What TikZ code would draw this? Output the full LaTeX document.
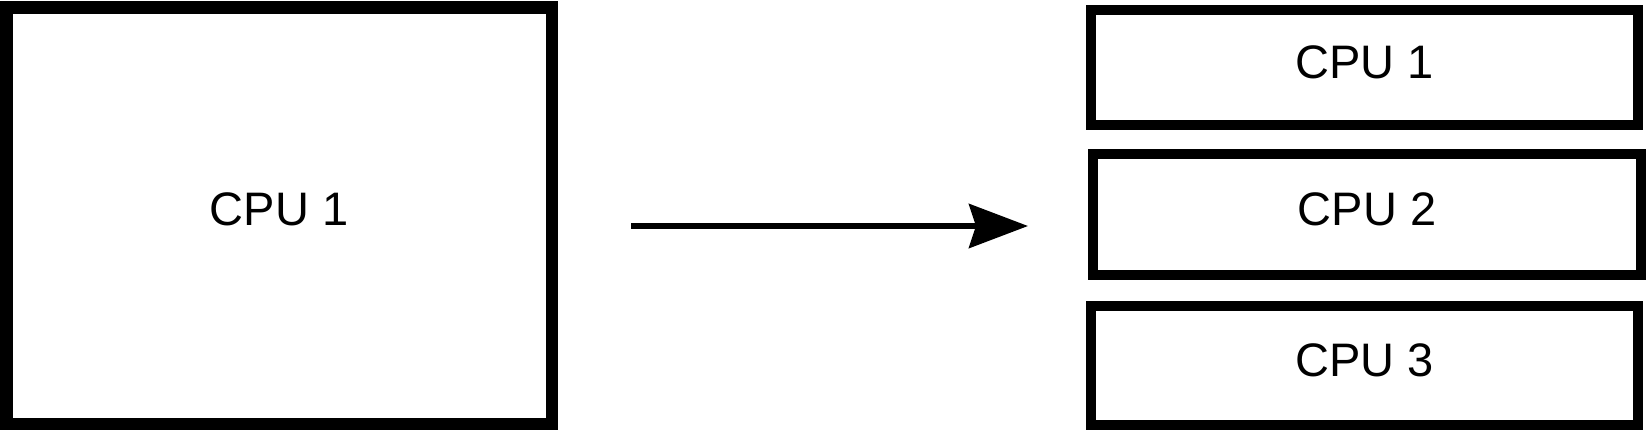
\documentclass[tikz,border=0pt]{standalone}
\usepackage{fontspec}
\setmainfont{Liberation Sans}
\usepackage{tikz}
\usetikzlibrary{positioning, arrows.meta}

\begin{document}
\begin{tikzpicture}[
  x=1pt, y=-1pt,
  cpubig/.style={rectangle, draw, line width=12.5pt, inner sep=0pt, text depth=12pt,
    minimum width=545.5pt, minimum height=416.5pt, font=\fontsize{47}{56}\selectfont},
  cpuslice/.style={rectangle, draw, line width=10pt, inner sep=0pt, text depth=10pt,
    minimum width=547.5pt, font=\fontsize{47}{56}\selectfont},
  split/.style={line width=6pt, -{Stealth[length=59pt, width=44pt, inset=7pt]}}
]
  \useasboundingbox (0,0) rectangle (1646,432);

  % One big CPU on the left.
  \node[cpubig] (cpu) at (279,215.5) {CPU 1};

  % The same CPU cut into three.
  \node[cpuslice, minimum height=115pt] (cpua) at (1364.4,67.5) {CPU 1};
  \node[cpuslice, minimum height=121pt] (cpub) at (1367,214.5) {CPU 2};
  \node[cpuslice, minimum height=119pt] (cpuc) at (1364.7,365.5) {CPU 3};

  % Arrow between the two halves.
  \coordinate (splitin) at (631,226);
  \coordinate (splitout) at (1028,226);
  \draw[split] (splitin) -- (splitout);
\end{tikzpicture}
\end{document}
